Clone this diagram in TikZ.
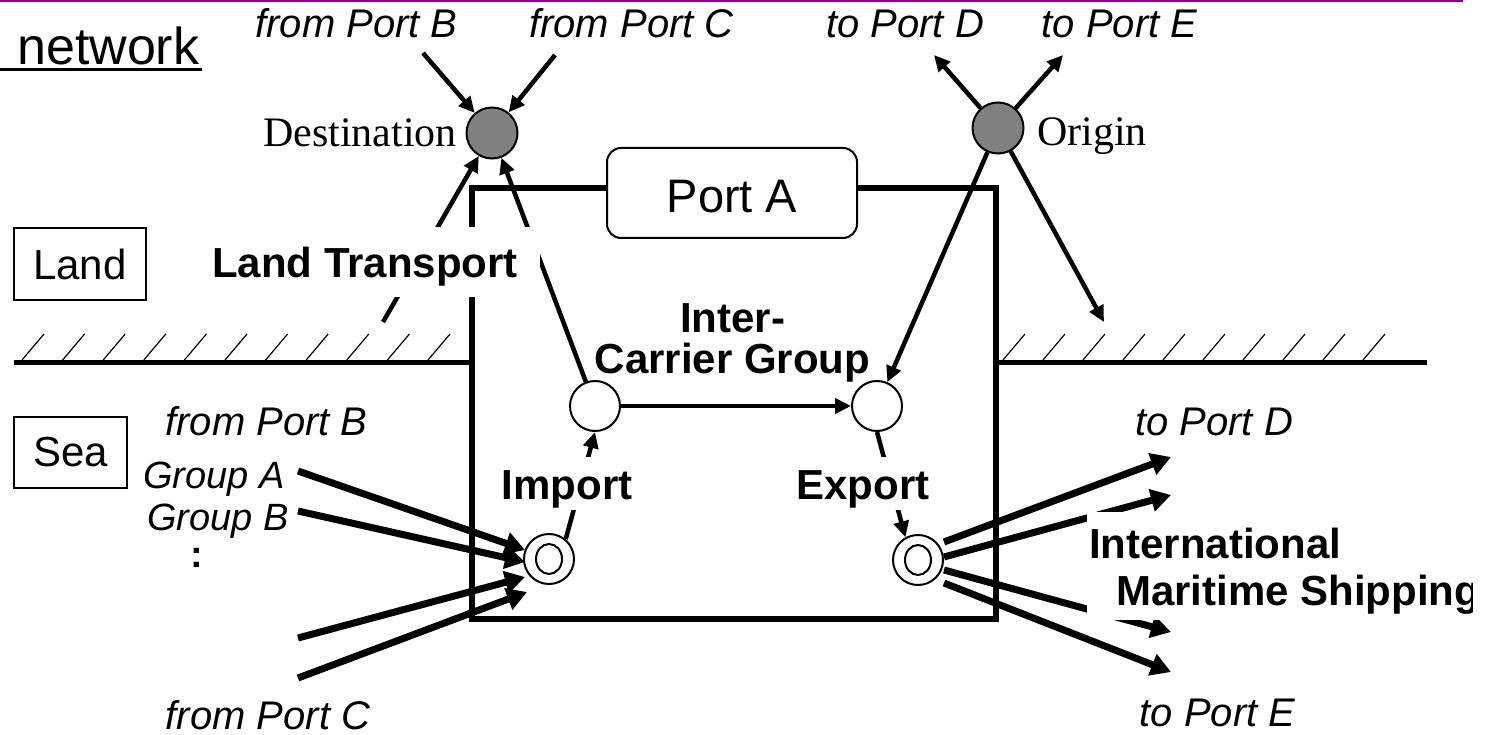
\documentclass[tikz,border=0pt]{standalone}
\usepackage{fontspec}
\setmainfont{Liberation Sans}
\newfontfamily\tnrfont{Liberation Serif}
\usetikzlibrary{arrows.meta}
\definecolor{topline}{RGB}{140,0,140}
\definecolor{nodegray}{RGB}{128,128,128}
\begin{document}
\begin{tikzpicture}[x=1pt,y=-1pt,
  lbl/.style={font=\fontsize{40}{48}\selectfont\itshape, anchor=base, inner sep=0pt},
  grp/.style={font=\fontsize{38}{44}\selectfont\itshape, anchor=base east, inner sep=0pt},
  boldlbl/.style={font=\fontsize{42}{48}\selectfont\bfseries, inner sep=0pt},
  tnrlbl/.style={font=\fontsize{42}{48}\selectfont\tnrfont, inner sep=0pt},
  odnode/.style={circle, draw, line width=2pt, fill=nodegray, minimum size=51pt, inner sep=0pt},
  icnode/.style={circle, draw, line width=2pt, fill=white, minimum size=50pt, inner sep=0pt},
  thinarr/.style={line width=4.5pt, -{Triangle[length=16pt,width=15pt]}},
  fatarr/.style={line width=7pt, -{Triangle[length=20pt,width=22pt]}},
  framel/.style={line width=5.5pt, line join=miter},
  hatchl/.style={line width=1.2pt},
  catbox/.style={draw, line width=1.5pt, font=\fontsize{42}{48}\selectfont, inner sep=0pt},
  whitelbl/.style={boldlbl, fill=white, text height=38pt, text depth=7pt}
]
\useasboundingbox (0,0) rectangle (1495,735);
\clip (0,0) rectangle (1495,735);

% top purple rule
\draw[topline, line width=2.5pt] (0,1) -- (1463,1);

% title
\node[font=\fontsize{52}{60}\selectfont, anchor=base west, inner sep=0pt] (title) at (17,65) {network};
\draw[line width=3pt] (0,70) -- (202,70);

% frame of port A area
\draw[framel] (607,188) -- (472,188) -- (472,619) -- (996,619) -- (996,188) -- (857,188);

% ground line with hatching
\draw[line width=5pt] (14,362) -- (472,362);
\draw[line width=5pt] (996,362) -- (1427,362);
\foreach \i in {0,...,10} { \draw[hatchl] (22+40.6*\i,360) -- ++(22,-26); }
\foreach \i in {0,...,9} { \draw[hatchl] (1003+40*\i,360) -- ++(22,-26); }

% category boxes
\node[catbox, minimum width=132pt, minimum height=72pt] (land) at (80,264) {Land};
\node[catbox, minimum width=113pt, minimum height=71pt] (sea) at (70.5,452.5) {Sea};

% nodes
\node[odnode] (dest) at (492,133) {};
\node[odnode] (orig) at (998,128) {};
\node[icnode] (icL) at (595,406) {};
\node[icnode] (icR) at (877,406) {};
\node[icnode] (imp) at (549,559) {};
\node[icnode] (exp) at (918,560) {};
\draw[line width=2pt] (imp.center) ellipse [x radius=13pt, y radius=15pt];
\draw[line width=2pt] (exp.center) ellipse [x radius=13pt, y radius=15pt];

% coordinates
\coordinate (sB) at (423,53);
\coordinate (sC) at (555,55);
\coordinate (tD) at (934,55);
\coordinate (tE) at (1063,55);
\coordinate (lt0) at (383,322);
\coordinate (oDown) at (1104,322);
\coordinate (sa1) at (298,471); \coordinate (ta1) at (525,550);
\coordinate (sa2) at (298,511); \coordinate (ta2) at (525,562);
\coordinate (sa3) at (298,638); \coordinate (ta3) at (525,577);
\coordinate (sa4) at (298,678); \coordinate (ta4) at (527,592);
\coordinate (es1) at (944,542); \coordinate (et1) at (1171,457);
\coordinate (es2) at (944,557); \coordinate (et2) at (1171,495);
\coordinate (es3) at (944,570); \coordinate (et3) at (1171,632);
\coordinate (es4) at (944,583); \coordinate (et4) at (1171,672);

% destination / origin connectors
\draw[thinarr] (sB) -- (dest);
\draw[thinarr] (sC) -- (dest);
\draw[thinarr] (lt0) -- (dest);
\draw[thinarr] (icL) -- (dest);
\draw[thinarr] (orig) -- (tD);
\draw[thinarr] (orig) -- (tE);
\draw[thinarr] (orig) -- (icR);
\draw[thinarr] (orig) -- (oDown);

% inside port
\draw[thinarr] (icL) -- (icR);
\draw[thinarr] (imp.50) -- (icL.south);
\draw[thinarr] (icR.south) -- (exp.119);

% sea connectors
\draw[fatarr] (sa1) -- (ta1);
\draw[fatarr] (sa2) -- (ta2);
\draw[fatarr] (sa3) -- (ta3);
\draw[fatarr] (sa4) -- (ta4);
\draw[fatarr] (es1) -- (et1);
\draw[fatarr] (es2) -- (et2);
\draw[fatarr] (es3) -- (et3);
\draw[fatarr] (es4) -- (et4);

% Port A
\node[draw, line width=2pt, fill=white, rounded corners=14pt, minimum width=250pt, minimum height=90pt,
      inner sep=0pt, font=\fontsize{47}{54}\selectfont, text height=40pt, text depth=0pt] (portA) at (732,193) {Port A\hspace{16pt}};

% white-backed labels
\node[whitelbl, minimum width=350pt, minimum height=70pt] (ltlbl) at (365,262) {Land Transport};
\node[whitelbl, minimum width=136pt, minimum height=53pt] (implbl) at (567,483.5) {Import};
\node[whitelbl, minimum width=136pt, minimum height=53pt] (explbl) at (863,483.5) {Export};
\node[boldlbl, fill=white, anchor=north west, minimum height=54pt, text height=44pt, text depth=6pt, inner xsep=2pt]
  (intl) at (1087,512) {\makebox[416pt][l]{International}};
\begin{scope}
\clip (0,0) rectangle (1472,735);
\node[boldlbl, fill=white, anchor=north west, minimum height=54pt, text height=32pt, text depth=8pt, inner xsep=2pt]
  (mship) at (1087,566) {\makebox[416pt][l]{\hspace{27pt}Maritime Shipping}};
\end{scope}

\node[boldlbl, anchor=base] (inter1) at (732.5,332) {Inter-};
\node[boldlbl, anchor=base] (inter2) at (732.5,373) {Carrier Group};

% Times labels
\node[tnrlbl, anchor=base east] (destlbl) at (457,147) {Destination};
\node[tnrlbl, anchor=base west] (origlbl) at (1037,146) {Origin};

% italic labels
\node[lbl] (l1) at (356.5,38) {from Port B};
\node[lbl] (l2) at (631.5,38) {from Port C};
\node[lbl] (l3) at (905,38) {to Port D};
\node[lbl] (l4) at (1119.5,38) {to Port E};
\node[lbl] (l5) at (266.5,435) {from Port B};
\node[lbl] (l6) at (268,729) {from Port C};
\node[lbl] (l7) at (1214,435) {to Port D};
\node[lbl] (l8) at (1217.5,726) {to Port E};
\node[grp] (ga) at (285,488) {Group A};
\node[grp] (gb) at (289,530) {Group B};
\node[font=\fontsize{38}{44}\selectfont\bfseries, anchor=base, inner sep=0pt] (dots) at (197,567) {:};
\end{tikzpicture}
\end{document}
